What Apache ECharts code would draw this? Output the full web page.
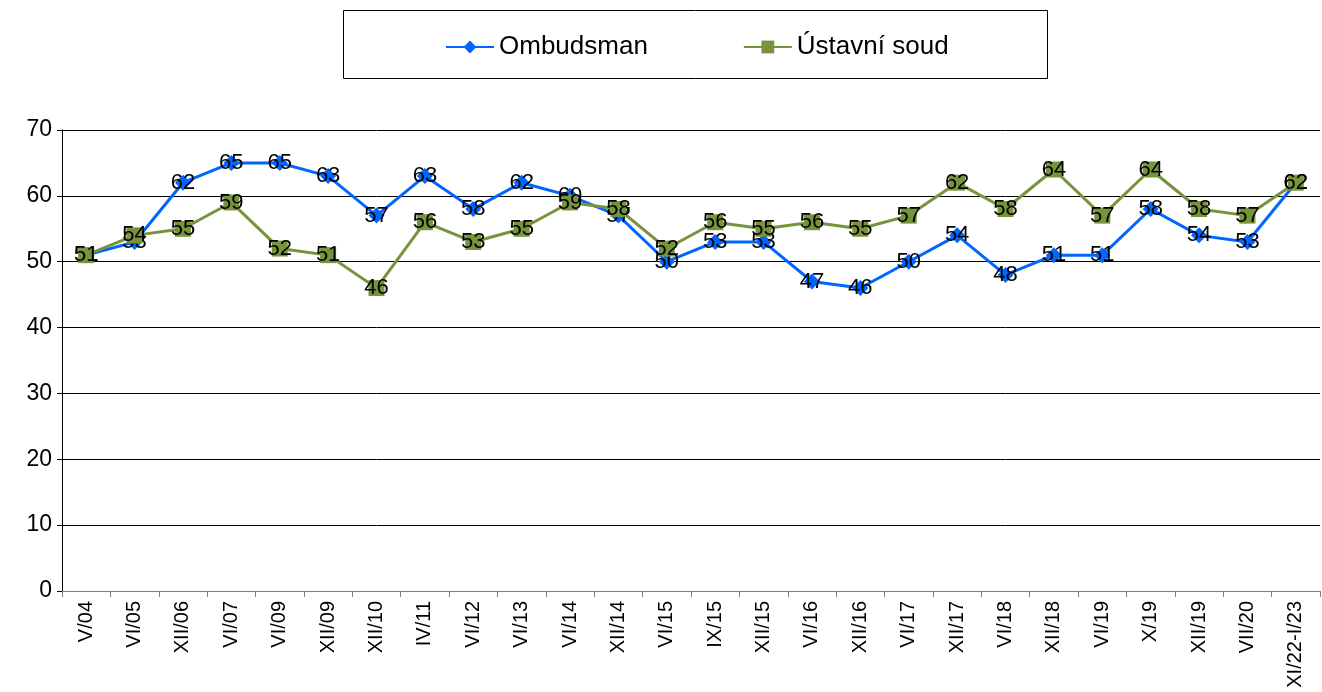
<!DOCTYPE html>
<html>
<head>
<meta charset="utf-8">
<script src="https://cdn.jsdelivr.net/npm/echarts@6/dist/echarts.min.js"></script>
<style>
  html, body { margin: 0; padding: 0; background: #fff; }
  #main { width: 1322px; height: 692px; }
</style>
</head>
<body>
<div id="main"></div>
<script>
// survey periods
let periods = ["V/04", "VI/05", "XII/06", "VI/07", "VI/09", "XII/09", "XII/10", "IV/11", "VI/12", "VI/13",
    "VI/14", "XII/14", "VI/15", "IX/15", "XII/15", "VI/16", "XII/16", "VI/17", "XII/17", "VI/18",
    "XII/18", "VI/19", "X/19", "XII/19", "VII/20", "XI/22-I/23"]

let ombudsman = [51, 53, 62, 65, 65, 63, 57, 63, 58, 62, 60, 57, 50, 53, 53, 47, 46, 50, 54, 48, 51, 51, 58, 54, 53, 62]
let ustavniSoud = [51, 54, 55, 59, 52, 51, 46, 56, 53, 55, 59, 58, 52, 56, 55, 56, 55, 57, 62, 58, 64, 57, 64, 58, 57, 62]

let font = "Liberation Sans, Arial, sans-serif"

var myChart = echarts.init(document.getElementById('main'))

// point labels sit right on the marker
let pointLabel = {
    show: true,
    position: 'inside',
    color: '#000',
    fontSize: 22,
    fontFamily: font
}

var option = {
    animation: false,
    textStyle: { fontFamily: font },
    graphic: [{
        type: 'rect',
        shape: { x: 343.5, y: 10.5, width: 704, height: 68 },
        style: { fill: '#fff', stroke: '#000', lineWidth: 1 },
        z: -1
    }],
    legend: {
        top: 29,
        left: 440,
        itemGap: 95,
        itemWidth: 48,
        itemHeight: 16,
        textStyle: { fontSize: 26, color: '#000', fontFamily: font },
        data: ['Ombudsman', 'Ústavní soud']
    },
    grid: {
        left: 62,
        right: 2,
        top: 130,
        bottom: 101,
        containLabel: false
    },
    xAxis: {
        type: 'category',
        data: periods,
        boundaryGap: true,
        axisLine: { lineStyle: { color: '#808080', width: 1 } },
        axisTick: { show: true, alignWithLabel: false, length: 6, lineStyle: { color: '#808080' } },
        axisLabel: {
            rotate: 90,
            interval: 0,
            fontSize: 20,
            color: '#000',
            margin: 10,
            fontFamily: font
        }
    },
    yAxis: {
        type: 'value',
        min: 0,
        max: 70,
        interval: 10,
        axisLine: { show: true, lineStyle: { color: '#000', width: 1 } },
        axisTick: { show: true, length: 5, lineStyle: { color: '#000' } },
        axisLabel: { fontSize: 23, color: '#000', margin: 10, fontFamily: font },
        splitLine: { lineStyle: { color: '#000', width: 1 } }
    },
    series: [
        {
            name: 'Ombudsman',
            type: 'line',
            data: ombudsman,
            symbol: 'diamond',
            symbolSize: 16,
            lineStyle: { color: '#0066ff', width: 3 },
            itemStyle: { color: '#0066ff' },
            label: pointLabel,
            z: 3
        },
        {
            name: 'Ústavní soud',
            type: 'line',
            data: ustavniSoud,
            symbol: 'rect',
            symbolSize: 16,
            lineStyle: { color: '#77933c', width: 3 },
            itemStyle: { color: '#77933c' },
            label: pointLabel,
            z: 4
        }
    ]
}

myChart.setOption(option)
</script>
</body>
</html>
